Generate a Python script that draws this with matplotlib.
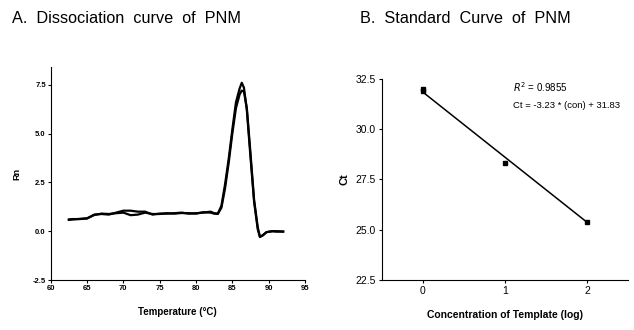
import matplotlib
matplotlib.use("Agg")
from matplotlib import pyplot as plt

plt.rcParams['font.family'] = ['Liberation Sans Narrow', 'Liberation Sans', 'DejaVu Sans']

# panel A: melt curves (temperature, Rn)
temp = [62.5, 63, 64, 65, 66, 67, 68, 69, 70, 71, 72, 73, 74, 75, 76, 77, 78, 79, 80,
        81, 82, 82.5, 83, 83.5, 84, 84.5, 85, 85.5, 86, 86.3, 86.6, 87, 87.5, 88, 88.5,
        88.8, 89.2, 89.7, 90.5, 91, 92]
rn_1 = [0.6, 0.62, 0.62, 0.65, 0.85, 0.88, 0.85, 0.95, 1.05, 1.05, 1.0, 1.0, 0.85, 0.9,
        0.9, 0.92, 0.95, 0.9, 0.92, 0.95, 1.0, 0.92, 0.9, 1.3, 2.4, 3.7, 5.2, 6.6, 7.3,
        7.6, 7.35, 6.2, 3.8, 1.5, 0.1, -0.3, -0.2, -0.05, 0.0, 0.0, -0.02]
rn_2 = [0.58, 0.6, 0.63, 0.66, 0.83, 0.9, 0.88, 0.92, 0.95, 0.82, 0.85, 0.95, 0.88, 0.88,
        0.92, 0.9, 0.93, 0.92, 0.9, 0.97, 0.95, 0.9, 0.88, 1.2, 2.2, 3.5, 5.0, 6.3, 7.0,
        7.2, 7.15, 6.3, 4.0, 1.6, 0.2, -0.28, -0.22, -0.05, 0.0, -0.02, -0.02]
a_xticks = [60, 65, 70, 75, 80, 85, 90, 95]
a_yticks = [-2.5, 0.0, 2.5, 5.0, 7.5]

# panel B: standard curve
conc = [0, 0, 1, 2]
ct = [32.0, 31.9, 28.3, 25.4]
slope, intercept = -3.23, 31.83
fit_x = [0, 2]
b_xticks = [0, 1, 2]
b_yticks = [22.5, 25.0, 27.5, 30.0, 32.5]

fig = plt.figure(figsize=(6.34, 3.3), dpi=100)

ax1 = fig.add_axes([0.080, 0.1515, 0.401, 0.645])
ax1.plot(temp, rn_1, color='black', lw=1.6)
ax1.plot(temp, rn_2, color='black', lw=1.6)
ax1.set_xlim(60, 95)
ax1.set_ylim(-2.5, 8.4)
ax1.set_xticks(a_xticks)
ax1.set_yticks(a_yticks)
ax1.set_xticklabels([str(t) for t in a_xticks])
ax1.set_yticklabels(['%.1f' % t for t in a_yticks])
ax1.tick_params(labelsize=5.5, length=2, width=0.8, pad=1.5)
for lab in ax1.get_xticklabels() + ax1.get_yticklabels():
    lab.set_fontweight('bold')
ax1.set_xlabel('Temperature (°C)', fontsize=7, fontweight='bold', labelpad=11)
ax1.set_ylabel('Rn', fontsize=6.5, fontweight='bold', labelpad=8)
for s in ['top', 'right']:
    ax1.spines[s].set_visible(False)

ax2 = fig.add_axes([0.6025, 0.1515, 0.388, 0.61])
ax2.plot(conc, ct, 's', color='black', ms=2.5)
ax2.plot(fit_x, [slope * x + intercept for x in fit_x], color='black', lw=1.1)
ax2.set_xlim(-0.5, 2.5)
ax2.set_ylim(22.5, 32.5)
ax2.set_xticks(b_xticks)
ax2.set_yticks(b_yticks)
ax2.set_yticklabels(['%.1f' % t for t in b_yticks])
ax2.tick_params(labelsize=7.5, length=2.5, width=0.8, pad=2)
ax2.set_xlabel('Concentration of Template (log)', fontsize=7.5, fontweight='bold', labelpad=10)
ax2.set_ylabel('Ct', fontsize=8, fontweight='bold', labelpad=4)
ax2.text(1.1, 32.1, r'$R^2$ = 0.9855', fontsize=7, va='center')
ax2.text(1.1, 31.15, 'Ct = -3.23 * (con) + 31.83', fontsize=6.8, va='center')
for s in ['top', 'right']:
    ax2.spines[s].set_visible(False)

fig.text(0.019, 0.945, 'A.  Dissociation  curve  of  PNM', fontsize=11.7,
         family=['Liberation Sans', 'DejaVu Sans'], va='center')
fig.text(0.568, 0.945, 'B.  Standard  Curve  of  PNM', fontsize=11.7,
         family=['Liberation Sans', 'DejaVu Sans'], va='center')

fig.savefig('out.png', dpi=100)
